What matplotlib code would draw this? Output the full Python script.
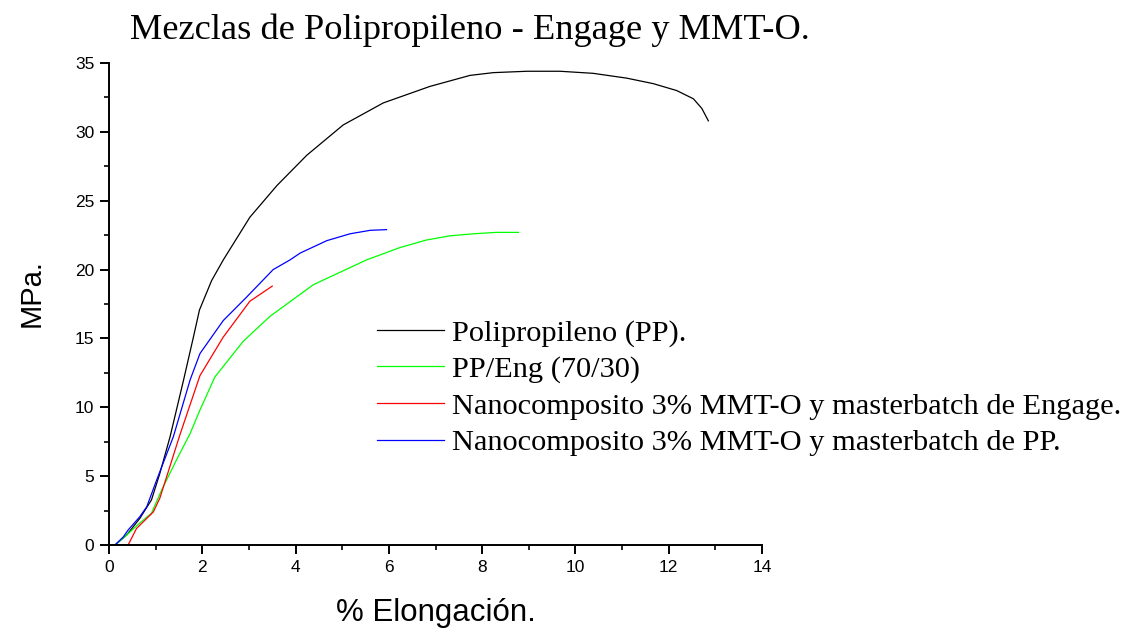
import matplotlib
matplotlib.use("Agg")
import matplotlib.pyplot as plt
from matplotlib.ticker import MultipleLocator

# ── data ──
pp_x = [0.13, 0.38, 0.49, 0.66, 0.91, 1.09, 1.31, 1.60, 1.81, 1.94, 2.20, 2.45,
        3.02, 3.60, 4.24, 5.02, 5.88, 6.88, 7.74, 8.24, 8.96, 9.67, 10.38, 11.10,
        11.67, 12.17, 12.53, 12.71, 12.85]
pp_y = [0.0, 0.73, 1.2, 1.93, 3.27, 5.2, 7.87, 12.0, 15.1, 17.07, 19.2, 20.7,
        23.8, 26.1, 28.3, 30.5, 32.1, 33.3, 34.1, 34.3, 34.4, 34.4, 34.25, 33.9,
        33.5, 33.0, 32.4, 31.7, 30.8]

eng_x = [0.0, 0.13, 0.38, 0.66, 0.91, 1.13, 1.45, 1.74, 1.95, 2.27, 2.88, 3.45,
         4.38, 5.52, 6.24, 6.81, 7.31, 7.82, 8.30, 8.78]
eng_y = [0.0, 0.0, 0.73, 1.6, 2.3, 4.0, 6.2, 8.1, 9.8, 12.2, 14.8, 16.6,
         18.9, 20.7, 21.6, 22.15, 22.45, 22.6, 22.7, 22.7]

mbe_x = [0.13, 0.41, 0.59, 0.74, 0.95, 1.09, 1.24, 1.52, 1.95, 2.45, 3.02, 3.50]
mbe_y = [0.0, 0.0, 1.2, 1.7, 2.4, 3.4, 5.0, 8.0, 12.3, 15.1, 17.7, 18.8]

mbp_x = [0.13, 0.31, 0.41, 0.66, 0.81, 1.02, 1.38, 1.74, 1.95, 2.45, 2.95, 3.52,
         3.88, 4.10, 4.67, 5.17, 5.60, 5.95]
mbp_y = [0.0, 0.6, 1.09, 2.05, 2.78, 4.7, 7.87, 12.0, 13.9, 16.3, 18.0, 20.0,
         20.7, 21.2, 22.1, 22.6, 22.85, 22.9]

labels = ["Polipropileno (PP).", "PP/Eng (70/30)",
          "Nanocomposito 3% MMT-O y masterbatch de Engage.",
          "Nanocomposito 3% MMT-O y masterbatch de PP."]
colors = ["#000000", "#00ff00", "#ff0000", "#0000ff"]

fig = plt.figure(figsize=(11.32, 6.28), dpi=100)
ax = fig.add_axes([109 / 1132, 1 - 545 / 628, (762 - 109) / 1132, (545 - 63) / 628])

for xs, ys, lab, c in zip([pp_x, eng_x, mbe_x, mbp_x], [pp_y, eng_y, mbe_y, mbp_y],
                          labels, colors):
    ax.plot(xs, ys, color=c, lw=0.9, label=lab)

ax.set_xlim(0, 14)
ax.set_ylim(0, 35)
ax.xaxis.set_major_locator(MultipleLocator(2))
ax.xaxis.set_minor_locator(MultipleLocator(1))
ax.yaxis.set_major_locator(MultipleLocator(5))
ax.yaxis.set_minor_locator(MultipleLocator(2.5))
ax.spines["top"].set_visible(False)
ax.spines["right"].set_visible(False)
for s in ("left", "bottom"):
    ax.spines[s].set_linewidth(1.4)
ax.tick_params(which="major", direction="out", length=6.5, width=1.4,
               labelsize=12.5, pad=4)
ax.tick_params(which="minor", direction="out", length=3.5, width=1.2)
for t in ax.get_xticklabels() + ax.get_yticklabels():
    t.set_family("Liberation Sans")

ax.set_xlabel("% Elongación.", family="Liberation Sans", fontsize=22.5, va="center")
ax.xaxis.set_label_coords(0.5, -0.141)
ax.set_ylabel("MPa.", family="Liberation Sans", fontsize=21, va="center")
ax.yaxis.set_label_coords(-0.118, 0.523)

fig.text(130 / 1132, 1 - 30 / 628, "Mezclas de Polipropileno - Engage y MMT-O.",
         family="Liberation Serif", fontsize=26.2, va="center", ha="left")

ax.legend(loc="upper left", bbox_to_anchor=(377 / 1132, 1 - 319 / 628),
          bbox_transform=fig.transFigure, frameon=False,
          prop={"family": "Liberation Serif", "size": 21.9},
          handlelength=2.2, handletextpad=0.25, labelspacing=0.3,
          borderpad=0, borderaxespad=0)

fig.savefig("out.png", dpi=100)
